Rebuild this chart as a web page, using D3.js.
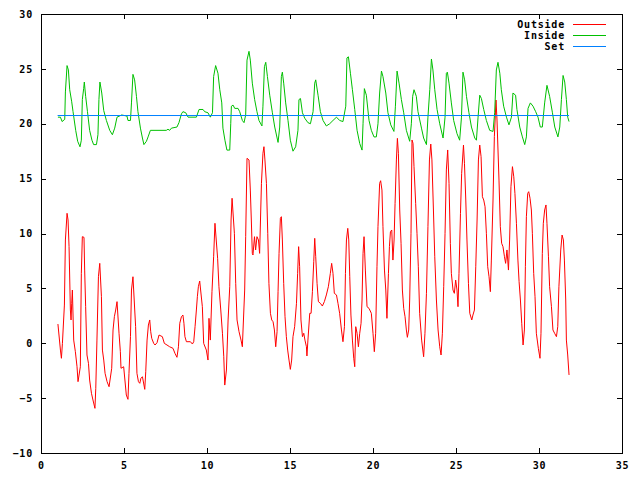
<!DOCTYPE html>
<html>
<head>
<meta charset="utf-8">
<script src="https://cdn.jsdelivr.net/npm/d3@7"></script>
<style>
  body { margin: 0; background: #fff; }
  text { font-family: "DejaVu Sans Mono", monospace; font-weight: bold; font-size: 10px; letter-spacing: 0.8px; fill: #000; }
</style>
</head>
<body>
<div id="chart"></div>
<script>
// ticks
const xTicks = [0, 5, 10, 15, 20, 25, 30, 35];
const yTicks = [-10, -5, 0, 5, 10, 15, 20, 25, 30];
const seriesNames = ["Outside", "Inside", "Set"];
const seriesColors = ["#ff0000", "#00c000", "#0080ff"];

// Outside temperature [day, degrees]
const outsidePts = [
  [1.02,1.75],[1.17,-0.62],[1.23,-1.37],[1.29,-0.01],[1.41,3.48],[1.47,9.41],[1.57,11.84],[1.63,11.23],
  [1.69,8.80],[1.77,3.03],[1.81,2.12],[1.85,3.64],[1.89,4.85],[1.97,0.29],[2.07,-0.77],[2.17,-2.14],
  [2.23,-3.50],[2.37,-2.14],[2.43,6.37],[2.49,9.71],[2.59,9.65],[2.63,6.67],[2.69,3.33],[2.77,-1.07],
  [2.86,-1.83],[2.93,-3.35],[3.04,-4.56],[3.13,-5.17],[3.25,-5.93],[3.30,-4.11],[3.37,0.29],[3.46,6.06],
  [3.54,7.28],[3.64,4.24],[3.70,-0.62],[3.78,-1.53],[3.86,-2.74],[3.98,-3.50],[4.10,-3.96],[4.26,-2.28],
  [4.34,1.21],[4.42,2.42],[4.50,3.03],[4.58,3.79],[4.70,0.91],[4.78,-0.77],[4.82,-2.28],[4.98,-2.14],
  [5.14,-4.72],[5.24,-5.11],[5.30,-2.74],[5.39,0.60],[5.45,4.85],[5.54,6.06],[5.70,1.51],[5.78,-2.74],
  [5.87,-3.50],[5.95,-3.65],[6.02,-3.19],[6.11,-3.05],[6.25,-4.20],[6.31,-2.59],[6.39,0.29],[6.47,1.66],
  [6.55,2.12],[6.61,1.05],[6.67,0.45],[6.79,-0.01],[6.87,-0.16],[6.99,0.05],[7.11,0.75],[7.31,0.60],
  [7.43,-0.01],[7.59,-0.16],[7.75,-0.32],[7.95,-0.46],[8.07,-0.92],[8.19,-1.28],[8.28,-0.32],[8.36,1.82],
  [8.46,2.42],[8.55,2.57],[8.61,1.82],[8.67,0.60],[8.76,0.14],[9.00,0.14],[9.12,-0.07],[9.20,0.14],
  [9.28,1.51],[9.36,3.03],[9.42,4.24],[9.48,5.15],[9.56,5.67],[9.72,3.33],[9.80,-0.01],[9.96,-0.62],
  [10.06,-1.53],[10.12,2.27],[10.20,0.29],[10.30,4.70],[10.40,7.88],[10.48,10.93],[10.64,7.74],[10.72,5.15],
  [10.83,3.03],[10.93,0.91],[11.01,-1.23],[11.07,-3.81],[11.17,-2.44],[11.27,2.12],[11.37,5.15],[11.45,11.23],
  [11.51,13.21],[11.65,10.02],[11.73,5.46],[11.81,2.12],[11.93,1.05],[12.05,0.29],[12.13,-0.32],[12.27,4.85],
  [12.33,9.71],[12.41,16.85],[12.53,16.70],[12.61,13.96],[12.67,11.23],[12.73,8.19],[12.77,8.04],[12.86,9.71],
  [12.93,8.50],[13.01,9.71],[13.10,9.41],[13.17,8.19],[13.28,14.57],[13.37,17.31],[13.43,17.91],[13.49,16.70],
  [13.58,14.57],[13.66,10.02],[13.73,5.46],[13.82,2.73],[13.90,2.12],[13.98,1.96],[14.06,1.21],[14.14,-0.32],
  [14.22,1.05],[14.28,4.70],[14.34,8.19],[14.42,11.38],[14.48,11.53],[14.54,9.41],[14.62,5.46],[14.70,2.42],
  [14.78,0.60],[14.86,-0.62],[14.94,-1.53],[15.02,-2.38],[15.10,-1.53],[15.18,0.60],[15.28,1.51],[15.39,3.64],
  [15.46,6.37],[15.52,8.80],[15.58,6.97],[15.66,2.12],[15.75,0.60],[15.83,0.91],[15.90,0.29],[15.99,-0.32],
  [16.02,-1.16],[16.08,0.29],[16.19,2.73],[16.27,2.73],[16.35,4.70],[16.43,7.43],[16.49,9.56],[16.55,7.88],
  [16.63,5.46],[16.71,3.79],[16.83,3.64],[16.95,3.39],[17.07,3.79],[17.19,4.40],[17.31,5.15],[17.43,6.37],
  [17.51,7.28],[17.59,6.37],[17.67,4.55],[17.80,4.40],[17.89,3.64],[17.99,2.73],[18.10,1.21],[18.19,0.14],
  [18.28,1.51],[18.34,6.37],[18.40,9.41],[18.48,10.47],[18.54,9.41],[18.60,6.06],[18.67,2.57],[18.76,0.29],
  [18.84,-1.37],[18.90,-2.14],[18.96,1.51],[19.04,0.91],[19.12,-0.32],[19.20,0.91],[19.28,1.82],[19.34,3.94],
  [19.40,8.19],[19.46,9.71],[19.54,6.67],[19.64,3.33],[19.76,3.18],[19.90,2.73],[20.00,0.91],[20.08,-0.77],
  [20.16,0.91],[20.24,6.97],[20.30,10.62],[20.40,14.57],[20.46,14.81],[20.54,13.96],[20.60,10.62],[20.69,6.67],
  [20.77,4.85],[20.84,2.27],[20.93,6.37],[20.99,8.80],[21.05,10.16],[21.13,10.32],[21.20,7.58],[21.27,9.41],
  [21.33,12.75],[21.41,16.70],[21.47,18.67],[21.53,17.31],[21.61,12.14],[21.69,9.11],[21.77,4.85],[21.85,3.18],
  [21.93,2.42],[22.01,1.21],[22.07,0.54],[22.15,1.21],[22.21,3.94],[22.29,10.02],[22.35,18.52],[22.41,18.22],
  [22.47,16.09],[22.57,12.75],[22.65,10.02],[22.73,6.97],[22.81,2.73],[22.93,0.29],[23.05,-1.23],[23.13,0.91],
  [23.22,4.55],[23.31,10.62],[23.40,16.70],[23.48,18.15],[23.55,16.70],[23.64,12.14],[23.72,7.88],[23.82,3.94],
  [23.92,1.21],[24.02,-0.32],[24.10,-1.07],[24.18,0.91],[24.26,5.15],[24.34,10.02],[24.42,15.79],[24.50,17.61],
  [24.58,14.57],[24.66,9.11],[24.72,6.37],[24.82,4.85],[24.90,4.55],[24.98,5.76],[25.06,4.85],[25.12,3.33],
  [25.18,6.37],[25.27,11.84],[25.34,15.48],[25.45,18.06],[25.51,16.40],[25.59,13.05],[25.66,9.41],[25.75,5.46],
  [25.83,2.73],[25.95,2.12],[26.02,2.57],[26.11,3.03],[26.19,6.97],[26.27,11.23],[26.35,16.70],[26.43,18.06],
  [26.51,17.00],[26.59,13.35],[26.67,13.05],[26.75,12.44],[26.83,10.02],[26.91,6.97],[26.99,6.06],[27.07,4.70],
  [27.13,7.58],[27.23,13.05],[27.31,18.82],[27.41,22.16],[27.47,20.34],[27.51,18.52],[27.59,14.87],[27.67,10.62],
  [27.75,9.11],[27.83,8.80],[27.92,7.88],[27.99,7.28],[28.07,8.50],[28.16,6.67],[28.23,9.41],[28.31,14.26],
  [28.40,16.09],[28.48,15.17],[28.55,13.66],[28.64,10.93],[28.73,7.58],[28.80,5.61],[28.88,3.94],[28.96,1.82],
  [29.04,-0.16],[29.12,1.21],[29.18,6.97],[29.24,11.53],[29.32,13.66],[29.38,13.81],[29.46,13.21],[29.54,12.14],
  [29.60,10.02],[29.68,6.37],[29.76,4.24],[29.84,0.91],[29.96,-0.46],[30.06,-1.37],[30.12,0.91],[30.20,8.19],
  [30.26,10.93],[30.34,12.14],[30.42,12.60],[30.48,10.93],[30.57,7.88],[30.64,5.15],[30.75,3.33],[30.84,1.21],
  [30.94,0.91],[31.05,0.60],[31.13,1.51],[31.20,5.15],[31.31,8.50],[31.39,9.86],[31.47,9.41],[31.53,7.58],
  [31.61,3.94],[31.65,0.29],[31.73,-1.07],[31.81,-2.89]
];

// Inside temperature [day, degrees]
const insidePts = [
  [1.02,20.6],[1.17,20.6],[1.27,20.2],[1.43,20.4],[1.47,22.9],[1.57,25.3],[1.65,24.9],[1.73,23.1],
  [1.85,22.0],[1.93,21.1],[2.09,19.4],[2.21,18.4],[2.35,17.9],[2.43,18.5],[2.49,22.2],[2.57,23.2],
  [2.61,23.8],[2.69,22.5],[2.80,21.1],[2.93,19.4],[3.07,18.5],[3.17,18.1],[3.34,18.1],[3.43,19.0],
  [3.49,22.2],[3.55,23.8],[3.66,22.8],[3.78,21.2],[3.94,20.3],[4.14,19.4],[4.30,19.0],[4.44,19.6],
  [4.58,20.6],[4.86,20.8],[5.18,20.7],[5.24,20.3],[5.39,20.3],[5.45,21.9],[5.54,24.5],[5.64,24.0],
  [5.75,22.5],[5.84,21.1],[5.99,19.6],[6.11,18.7],[6.20,18.1],[6.35,18.4],[6.45,18.8],[6.59,19.4],
  [7.55,19.4],[7.65,19.5],[7.75,19.4],[7.86,19.6],[8.19,19.7],[8.31,20.1],[8.46,20.9],[8.55,21.1],
  [8.72,21.0],[8.86,20.6],[9.36,20.6],[9.52,21.3],[9.76,21.3],[9.86,21.1],[10.06,21.0],[10.20,20.6],
  [10.33,21.0],[10.40,24.3],[10.52,25.3],[10.66,24.6],[10.77,23.1],[10.89,21.9],[10.96,19.6],[11.08,18.5],
  [11.20,17.6],[11.37,17.6],[11.43,20.0],[11.47,21.6],[11.57,21.7],[11.67,21.4],[11.87,21.4],[11.97,21.1],
  [12.13,20.3],[12.23,20.1],[12.33,20.8],[12.41,25.8],[12.53,26.6],[12.61,25.8],[12.73,23.7],[12.87,22.2],
  [13.01,21.1],[13.13,20.3],[13.31,19.8],[13.37,21.6],[13.46,25.2],[13.54,25.6],[13.64,24.3],[13.78,22.6],
  [13.94,21.0],[14.08,19.7],[14.28,18.3],[14.38,19.7],[14.48,24.3],[14.54,24.7],[14.62,23.7],[14.74,21.9],
  [14.88,20.3],[15.02,18.5],[15.18,17.5],[15.34,17.9],[15.48,19.4],[15.54,22.2],[15.63,22.3],[15.75,21.0],
  [15.89,20.5],[16.08,20.1],[16.23,20.0],[16.39,21.1],[16.49,23.7],[16.55,24.0],[16.69,22.6],[16.83,21.1],
  [16.99,20.3],[17.19,19.8],[17.39,20.0],[17.59,20.3],[17.80,20.6],[17.99,20.3],[18.19,20.2],[18.36,21.6],
  [18.43,26.0],[18.52,26.1],[18.64,24.6],[18.76,23.1],[18.90,21.3],[19.04,19.4],[19.20,18.2],[19.34,17.6],
  [19.40,20.0],[19.48,23.2],[19.60,22.6],[19.76,20.3],[19.90,19.4],[20.06,18.8],[20.20,18.8],[20.30,20.0],
  [20.40,22.8],[20.51,24.8],[20.60,24.3],[20.77,22.8],[20.90,21.0],[21.07,19.9],[21.26,19.3],[21.35,21.6],
  [21.45,24.8],[21.57,23.7],[21.71,22.2],[21.85,21.0],[22.01,19.4],[22.21,18.4],[22.31,20.0],[22.39,22.5],
  [22.47,23.1],[22.61,22.5],[22.71,21.1],[22.92,19.6],[23.05,18.7],[23.22,18.1],[23.31,20.6],[23.42,23.1],
  [23.52,25.9],[23.61,24.9],[23.72,23.1],[23.86,21.3],[24.02,20.0],[24.22,18.7],[24.34,20.6],[24.42,24.6],
  [24.48,24.7],[24.58,23.7],[24.72,21.9],[24.86,20.3],[25.06,19.1],[25.22,18.5],[25.33,20.6],[25.42,24.7],
  [25.52,24.0],[25.63,22.5],[25.78,21.0],[25.93,19.7],[26.13,18.7],[26.23,18.5],[26.33,20.6],[26.43,22.6],
  [26.53,22.3],[26.67,21.3],[26.83,20.3],[27.03,19.4],[27.23,19.3],[27.33,21.0],[27.43,24.9],[27.53,25.6],
  [27.64,24.6],[27.73,23.1],[27.87,21.6],[28.04,20.6],[28.19,19.9],[28.34,20.6],[28.43,22.8],[28.59,22.6],
  [28.67,21.3],[28.84,19.7],[29.00,18.8],[29.14,18.1],[29.24,18.8],[29.34,21.4],[29.48,21.9],[29.64,21.6],
  [29.80,21.1],[29.94,20.6],[30.08,19.7],[30.20,19.7],[30.34,21.9],[30.48,23.5],[30.64,22.5],[30.81,21.0],
  [30.95,19.7],[31.14,18.8],[31.25,19.7],[31.35,22.2],[31.45,24.4],[31.55,23.8],[31.65,22.2],[31.73,20.6],
  [31.81,20.2]
];

// Set point [day, degrees]
const setPts = [[1.0, 20.75], [31.81, 20.75]];

const margin = { top: 14, right: 18, bottom: 27, left: 41 },
      width = 640 - margin.left - margin.right,
      height = 480 - margin.top - margin.bottom;

const svg = d3.select("#chart")
              .append("svg")
              .attr("width", 640)
              .attr("height", 480);

const g = svg.append("g")
             .attr("transform", `translate(${margin.left},${margin.top})`);

const x = d3.scaleLinear().domain([0, 35]).range([0, width]);
const y = d3.scaleLinear().domain([-10, 30]).range([height, 0]);

// axes with inward ticks, mirrored on top and right
g.append("g")
 .attr("transform", `translate(0,${height})`)
 .call(d3.axisBottom(x).tickValues(xTicks).tickSizeInner(-5).tickSizeOuter(0).tickPadding(9));
g.append("g")
 .call(d3.axisLeft(y).tickValues(yTicks).tickSizeInner(-5).tickSizeOuter(0).tickPadding(8));
g.append("g")
 .call(d3.axisTop(x).tickValues(xTicks).tickSizeInner(-5).tickSizeOuter(0).tickFormat(""));
g.append("g")
 .attr("transform", `translate(${width},0)`)
 .call(d3.axisRight(y).tickValues(yTicks).tickSizeInner(-5).tickSizeOuter(0).tickFormat(""));

g.selectAll(".domain").remove();
g.selectAll(".tick line").attr("stroke", "#000").attr("shape-rendering", "crispEdges");
g.selectAll(".tick text")
 .style("font-family", "'DejaVu Sans Mono', monospace")
 .style("font-weight", "bold")
 .style("font-size", "10px")
 .style("letter-spacing", "0.8px");

g.append("rect")
 .attr("width", width)
 .attr("height", height)
 .attr("fill", "none")
 .attr("stroke", "#000")
 .attr("shape-rendering", "crispEdges");

const line = d3.line()
               .x(d => x(d[0]))
               .y(d => y(d[1]));

[outsidePts, insidePts, setPts].forEach((pts, i) => {
  g.append("path")
   .datum(pts)
   .attr("fill", "none")
   .attr("stroke", seriesColors[i])
   .attr("stroke-width", 1)
   .attr("d", line);
});

// key, top right
const key = svg.append("g");
seriesNames.forEach((name, i) => {
  const yy = 24 + i * 11.4;
  key.append("text")
     .attr("x", 565)
     .attr("y", yy)
     .attr("dy", "0.35em")
     .attr("text-anchor", "end")
     .text(name);
  key.append("line")
     .attr("x1", 573).attr("x2", 606)
     .attr("y1", yy).attr("y2", yy)
     .attr("stroke", seriesColors[i])
     .attr("shape-rendering", "crispEdges");
});
</script>
</body>
</html>
